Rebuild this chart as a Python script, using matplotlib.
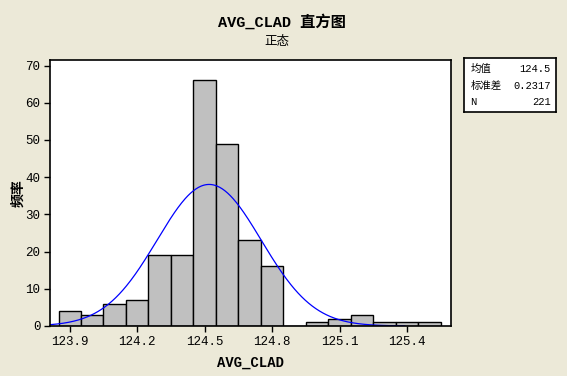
import numpy as np
import matplotlib.pyplot as plt

# bin centres (width 0.1) and counts
centers = [123.9, 124.0, 124.1, 124.2, 124.3, 124.4, 124.5, 124.6, 124.7, 124.8,
           124.9, 125.0, 125.1, 125.2, 125.3, 125.4, 125.5]
counts = [4, 3, 6, 7, 19, 19, 66, 49, 23, 16, 0, 1, 2, 3, 1, 1, 1]
bin_width = 0.1
mean = 124.52
std = 0.2317
n = 221
xticks = [123.9, 124.2, 124.5, 124.8, 125.1, 125.4]
yticks = [0, 10, 20, 30, 40, 50, 60, 70]

bg = '#ECE9D8'
plt.rcParams['font.family'] = ['Liberation Mono', 'Noto Sans CJK SC', 'DejaVu Sans']

fig = plt.figure(figsize=(5.67, 3.76), dpi=100, facecolor=bg)
W, H = 567, 376
ax = fig.add_axes([50 / W, 1 - 326 / H, (451 - 50) / W, (326 - 60) / H])
ax.set_facecolor('white')

ax.bar(centers, counts, width=bin_width, color='#C0C0C0', edgecolor='black', linewidth=1)

xlo, xhi = 123.812, 125.596
xs = np.linspace(xlo, 125.39, 400)
ys = n * bin_width / (std * np.sqrt(2 * np.pi)) * np.exp(-0.5 * ((xs - mean) / std) ** 2)
ax.plot(xs, ys, color='blue', linewidth=0.9)

ax.set_xlim(xlo, xhi)
ax.set_ylim(0, 71.5)
ax.set_xticks(xticks)
ax.set_xticklabels([f'{t:.1f}' for t in xticks])
ax.set_yticks(yticks)
ax.tick_params(direction='out', length=4, width=1, labelsize=9, pad=3)
for s in ax.spines.values():
    s.set_linewidth(1.2)

ax.set_xlabel('AVG_CLAD', fontsize=10, fontweight='bold', labelpad=6)
ax.set_ylabel('频率', fontsize=10, fontweight='bold')
ax.yaxis.set_label_coords((25 - 50) / (451 - 50), 0.5)

fig.text(282 / W, 1 - 22 / H, 'AVG_CLAD 直方图', ha='center', va='center',
         fontsize=11, fontweight='bold')
fig.text(277 / W, 1 - 42 / H, '正态', ha='center', va='center', fontsize=9)

# stats box
box = fig.add_axes([464 / W, 1 - 112 / H, (556 - 464) / W, (112 - 58) / H])
box.set_xticks([])
box.set_yticks([])
box.set_facecolor('white')
for s in box.spines.values():
    s.set_linewidth(1.2)
labels = ['均值', '标准差', 'N']
values = [f'{mean:.1f}', f'{std:.4f}', f'{n}']
for i, (lab, val) in enumerate(zip(labels, values)):
    y = 0.8 - i * 0.31
    box.text(0.07, y, lab, ha='left', va='center', fontsize=7.5, transform=box.transAxes)
    box.text(0.94, y, val, ha='right', va='center', fontsize=7.5, transform=box.transAxes)

fig.savefig('out.png', dpi=100, facecolor=bg)
